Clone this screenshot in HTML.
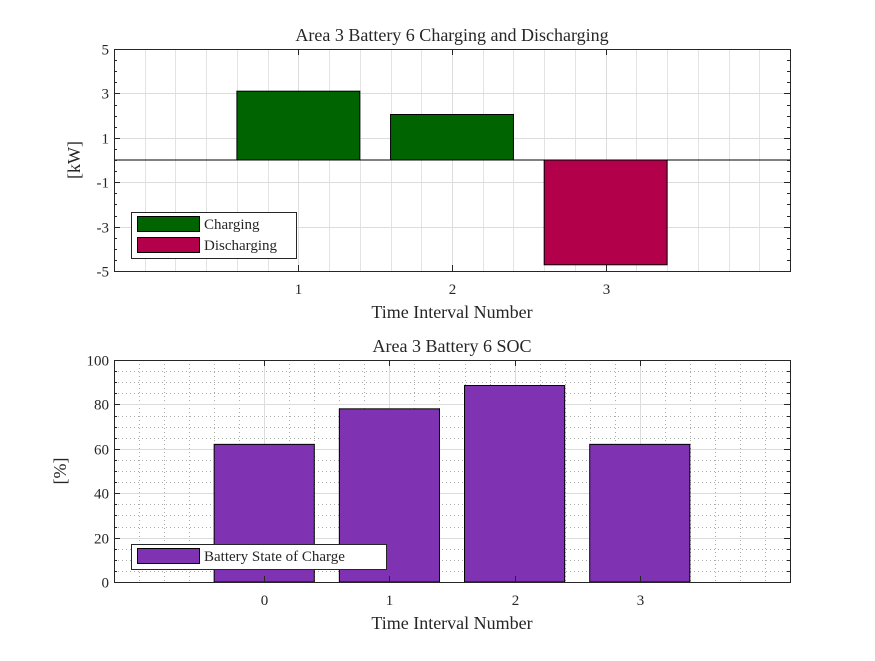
<!DOCTYPE html>
<html><head><meta charset="utf-8"><style>
body{margin:0;background:#fff}
svg text{font-family:"Liberation Serif",serif;fill:#262626}
</style></head><body>
<svg id="s" width="875" height="656"></svg>
<script>
const cats1=[1,2,3];
const vals1=[3.1,2.05,-4.72];
const yTicks1=[5,3,1,-1,-3,-5];
const cats2=[0,1,2,3];
const vals2=[62,78,88.5,62];
const yTicks2=[0,20,40,60,80,100];
const S=document.getElementById('s');const NS='http://www.w3.org/2000/svg';
function mk(t,a,p){const e=document.createElementNS(NS,t);for(const k in a)e.setAttribute(k,a[k]);(p||S).appendChild(e);return e;}
function axes(o){
 const g=mk('g',{});
 
 
 const X=v=>o.x0+(v-o.xmin)/(o.xmax-o.xmin)*(o.x1-o.x0);
 const Y=v=>o.y1-(v-o.ymin)/(o.ymax-o.ymin)*(o.y1-o.y0);
 const dash=o.dotted?'1,3':'';
 for(let v=o.xmin;v<=o.xmax+1e-9;v+=0.2){const x=Math.round(X(v))+.5;mk('line',{x1:x,x2:x,y1:o.y0,y2:o.y1,stroke:o.dotted?'#aaa':'#e3e3e3','stroke-dasharray':dash,'stroke-width':1},g);}
 if(o.yminor)for(let v=o.ymin;v<=o.ymax;v+=o.yminor){const y=Math.round(Y(v))+.5;if(o.dotted)mk('line',{x1:o.x0,x2:o.x1,y1:y,y2:y,stroke:'#aaa','stroke-dasharray':dash},g);}
 o.xt.forEach(v=>{const x=Math.round(X(v))+.5;mk('line',{x1:x,x2:x,y1:o.y0,y2:o.y1,stroke:'#dcdcdc'},g);});
 o.yt.forEach(v=>{const y=Math.round(Y(v))+.5;mk('line',{x1:o.x0,x2:o.x1,y1:y,y2:y,stroke:'#dcdcdc'},g);});
 o.cats.forEach((c,i)=>{const v=o.vals[i];const r=mk('rect',{x:X(c-0.4),width:X(c+0.4)-X(c-0.4),y:Math.min(Y(v),Y(0)),height:Math.abs(Y(v)-Y(0)),fill:o.col(v),stroke:'#000','stroke-width':1},g);
  
  });
 if(o.zero)mk('line',{x1:o.x0,x2:o.x1,y1:Y(0),y2:Y(0),stroke:'#000'},g);
 mk('rect',{x:o.x0+.5,y:o.y0+.5,width:o.x1-o.x0,height:o.y1-o.y0,fill:'none',stroke:'#262626'},g);
 o.xt.forEach(v=>{const x=Math.round(X(v))+.5;mk('line',{x1:x,x2:x,y1:o.y0,y2:o.y0+6,stroke:'#262626'},g);mk('line',{x1:x,x2:x,y1:o.y1,y2:o.y1-6,stroke:'#262626'},g);
  const t=mk('text',{x:x,y:o.y1+23,'text-anchor':'middle','font-size':15},g);t.textContent=v;});
 for(let v=o.ymin;v<=o.ymax+1e-9;v+=o.ytmin){const y=Math.round(Y(v))+.5;mk('line',{x1:o.x0,x2:o.x0+3,y1:y,y2:y,stroke:'#262626'},g);mk('line',{x1:o.x1,x2:o.x1-3,y1:y,y2:y,stroke:'#262626'},g);}
 o.yt.forEach(v=>{const y=Math.round(Y(v))+.5;mk('line',{x1:o.x0,x2:o.x0+6,y1:y,y2:y,stroke:'#262626'},g);mk('line',{x1:o.x1,x2:o.x1-6,y1:y,y2:y,stroke:'#262626'},g);
  const t=mk('text',{x:o.x0-5,y:y+5,'text-anchor':'end','font-size':15},g);t.textContent=v;});
 let t=mk('text',{x:(o.x0+o.x1)/2,y:o.y0-8,'text-anchor':'middle','font-size':18,fill:'#000'},g);t.textContent=o.title;
 t=mk('text',{x:(o.x0+o.x1)/2,y:o.y1+47,'text-anchor':'middle','font-size':18},g);t.textContent='Time Interval Number';
 t=mk('text',{x:0,y:0,'text-anchor':'middle','font-size':18,transform:`translate(${o.ylx},${(o.y0+o.y1)/2}) rotate(-90)`},g);t.textContent=o.ylab;
 const lg=mk('g',{},g);
 mk('rect',{x:131.5,y:o.lgy+.5,width:o.lgw,height:o.lgItems.length*21+4,fill:'#fff',stroke:'#262626'},lg);
 o.lgItems.forEach((it,i)=>{const yy=o.lgy+4+i*21;mk('rect',{x:137.5,y:yy+.5,width:62,height:15,fill:it[1],stroke:'#000'},lg);
  const tt=mk('text',{x:204,y:yy+13,'font-size':15,fill:'#000'},lg);tt.textContent=it[0];});
}
axes({name:'charging-chart',x0:114,x1:790,y0:49,y1:271,xmin:-0.2,xmax:4.2,ymin:-5,ymax:5,xt:cats1,yt:yTicks1,ytmin:0.5,cats:cats1,vals:vals1,zero:true,
 col:v=>v>=0?'#006400':'#b3004b',title:'Area 3 Battery 6 Charging and Discharging',ylab:'[kW]',ylx:80,lgy:212,lgw:165,lgItems:[['Charging','#006400'],['Discharging','#b3004b']]});
axes({name:'soc-chart',x0:114,x1:790,y0:360,y1:582,xmin:-1.2,xmax:4.2,ymin:0,ymax:100,xt:cats2,yt:yTicks2,ytmin:5,yminor:5,dotted:true,cats:cats2,vals:vals2,
 col:v=>'#7f33b3',title:'Area 3 Battery 6 SOC',ylab:'[%]',ylx:66,lgy:544,lgw:255,lgItems:[['Battery State of Charge','#7f33b3']]});
</script>
</body></html>
